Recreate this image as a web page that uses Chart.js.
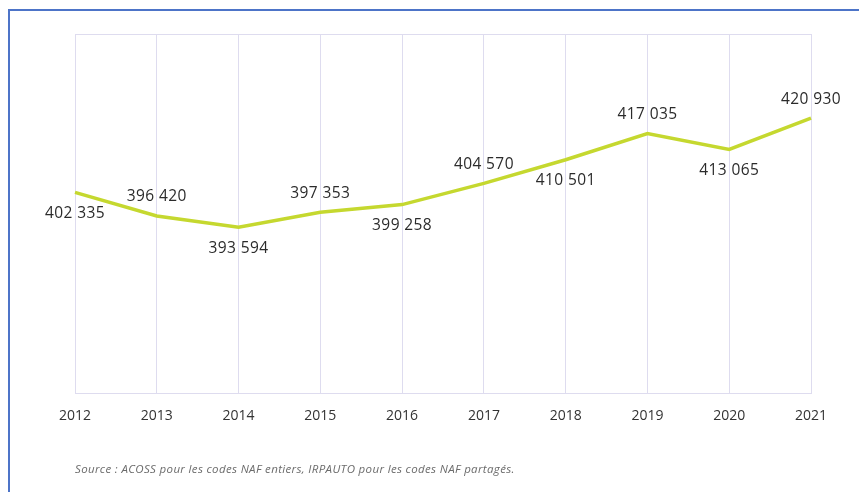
<!DOCTYPE html>
<html lang="fr">
<head>
<meta charset="utf-8">
<title>Effectifs salariés 2012-2021</title>
<script src="https://cdn.jsdelivr.net/npm/chart.js@4.4.1/dist/chart.umd.min.js"></script>
<style>
  html, body { margin: 0; padding: 0; background: #fff; overflow: hidden; }
  #wrap { position: relative; width: 859px; height: 492px; }
  .frame {
    position: absolute; left: 8px; top: 9px; width: 900px; height: 600px;
    border-left: 2px solid #4d74c8; border-top: 2px solid #4d74c8;
  }
  canvas { position: absolute; left: 0; top: 0; }
  .source {
    position: absolute; left: 75px; top: 461px;
    font-family: 'Open Sans', sans-serif; font-style: italic;
    font-size: 11.5px; letter-spacing: 0.35px; color: #6b6b6b;
  }
</style>
</head>
<body>
<div id="wrap">
  <div class="frame"></div>
  <canvas id="effectifs-chart" width="859" height="492"></canvas>
  <div class="source">Source : ACOSS pour les codes NAF entiers, IRPAUTO pour les codes NAF partagés.</div>
</div>
<script>
// Annual headcount series
const years = ['2012', '2013', '2014', '2015', '2016', '2017', '2018', '2019', '2020', '2021'];
const effectifs = [402335, 396420, 393594, 397353, 399258, 404570, 410501, 417035, 413065, 420930];
// where each value label sits relative to its point
const labelSide = ['below', 'above', 'below', 'above', 'below', 'above', 'below', 'above', 'below', 'above'];

const gridColor = '#dedcef';
const lineColor = '#c5d82f';

// French formatting: groups of three separated by a space
function fmt(v) {
  return String(v).replace(/\B(?=(\d{3})+(?!\d))/g, ' ');
}

// Writes the value next to each point, alternating above / below the line
const valueLabels = {
  id: 'valueLabels',
  afterDatasetsDraw(chart) {
    const ctx = chart.ctx;
    const meta = chart.getDatasetMeta(0);
    ctx.save();
    ctx.font = '500 15.5px "Open Sans", sans-serif';
    ctx.letterSpacing = '0.4px';
    ctx.fillStyle = '#2b2b2b';
    ctx.textAlign = 'center';
    ctx.textBaseline = 'middle';
    meta.data.forEach((pt, i) => {
      const dy = labelSide[i] === 'above' ? -19 : 21;
      ctx.fillText(fmt(effectifs[i]), pt.x, pt.y + dy);
    });
    ctx.restore();
  }
};

Chart.defaults.font.family = "'Open Sans', sans-serif";
Chart.defaults.color = '#333';

new Chart(document.getElementById('effectifs-chart').getContext('2d'), {
  type: 'line',
  data: {
    labels: years,
    datasets: [{
      data: effectifs,
      borderColor: lineColor,
      borderWidth: 3.5,
      pointRadius: 0,
      tension: 0,
      fill: false
    }]
  },
  options: {
    responsive: false,
    animation: false,
    layout: { padding: { left: 75, right: 48, top: 34, bottom: 54 } },
    plugins: {
      legend: { display: false },
      tooltip: { enabled: false }
    },
    scales: {
      x: {
        offset: false,
        grid: { color: gridColor, lineWidth: 1, drawTicks: false },
        border: { color: gridColor },
        ticks: { padding: 14, font: { size: 14 }, color: '#333', maxRotation: 0 }
      },
      y: {
        min: 352000,
        max: 442000,
        grid: { color: gridColor, drawTicks: false },
        border: { display: false },
        ticks: { display: false, stepSize: 90000 }
      }
    }
  },
  plugins: [valueLabels]
});
</script>
</body>
</html>
